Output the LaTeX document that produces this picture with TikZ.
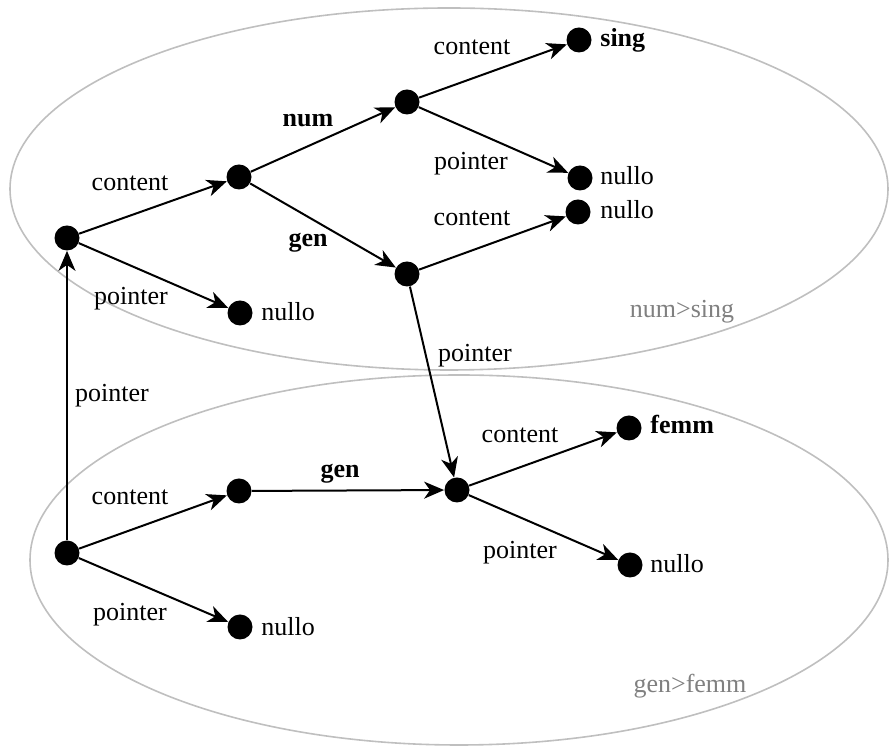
\documentclass[tikz,border=0pt]{standalone}
\usepackage{fontspec}
\setmainfont{Liberation Serif}
\usetikzlibrary{arrows.meta}
\begin{document}
\begin{tikzpicture}[x=0.5pt,y=-0.5pt,
  dot/.style={circle,fill=black,inner sep=0pt,minimum size=12.5pt},
  edge/.style={line width=1pt,-{Stealth[length=10pt,width=8.5pt,inset=3pt]}},
  lbl/.style={anchor=base,inner sep=0pt,font=\fontsize{13}{15}\selectfont},
  val/.style={anchor=base west,inner sep=0pt,font=\fontsize{13}{15}\selectfont},
  grp/.style={draw=black!25,line width=0.8pt},
  grplbl/.style={anchor=base,inner sep=0pt,text=black!50,font=\fontsize{13}{15}\selectfont}]
\useasboundingbox (0,0) rectangle (890,747);
% group ellipses
\draw[grp] (449,189) ellipse [x radius=439pt*0.5, y radius=181pt*0.5];
\draw[grp] (459,560) ellipse [x radius=429pt*0.5, y radius=185pt*0.5];
\node[grplbl] (g1) at (682,318) {num>sing};
\node[grplbl] (g2) at (690,693) {gen>femm};
% top structure
\node[dot] (a1) at (67,238) {};
\node[dot] (b1) at (239,177) {};
\node[dot] (c) at (407,102) {};
\node[dot] (sing) at (579,40) {};
\node[dot] (n1) at (580,178) {};
\node[dot] (d) at (407,274) {};
\node[dot] (n2) at (578,212) {};
\node[dot] (n3) at (240,313) {};
% bottom structure
\node[dot] (a2) at (67,553) {};
\node[dot] (b2) at (239,491) {};
\node[dot] (e) at (457,490) {};
\node[dot] (femm) at (629,428) {};
\node[dot] (n4) at (630,565) {};
\node[dot] (n5) at (240,627) {};
% values
\node[val,font=\fontsize{13}{15}\selectfont\bfseries] (vsing) at (600,47) {sing};
\node[val] (vn1) at (600,185) {nullo};
\node[val] (vn2) at (600,219) {nullo};
\node[val] (vn3) at (261,321) {nullo};
\node[val,font=\fontsize{13}{15}\selectfont\bfseries] (vfemm) at (650,434) {femm};
\node[val] (vn4) at (650,573) {nullo};
\node[val] (vn5) at (261,636) {nullo};
% edges
\draw[edge] (a1) -- (b1);
\draw[edge] (a1) -- (n3);
\draw[edge] (b1) -- (c);
\draw[edge] (b1) -- (d);
\draw[edge] (c) -- (sing);
\draw[edge] (c) -- (n1);
\draw[edge] (d) -- (n2);
\draw[edge] (d) -- (e);
\draw[edge] (a2) -- (a1);
\draw[edge] (a2) -- (b2);
\draw[edge] (a2) -- (n5);
\draw[edge] (b2) -- (e);
\draw[edge] (e) -- (femm);
\draw[edge] (e) -- (n4);
% edge labels
\node[lbl] (l1) at (130,191) {content};
\node[lbl] (l2) at (131,305) {pointer};
\node[lbl,font=\fontsize{13}{15}\selectfont\bfseries] (l3) at (308,127) {num};
\node[lbl,font=\fontsize{13}{15}\selectfont\bfseries] (l4) at (308,247) {gen};
\node[lbl] (l5) at (472,55) {content};
\node[lbl] (l6) at (471,170) {pointer};
\node[lbl] (l7) at (472,226) {content};
\node[lbl] (l8) at (475,362) {pointer};
\node[lbl] (l9) at (112,402) {pointer};
\node[lbl] (l10) at (130,505) {content};
\node[lbl] (l11) at (130,621) {pointer};
\node[lbl,font=\fontsize{13}{15}\selectfont\bfseries] (l12) at (340,478) {gen};
\node[lbl] (l13) at (520,443) {content};
\node[lbl] (l14) at (520,559) {pointer};
\end{tikzpicture}
\end{document}
